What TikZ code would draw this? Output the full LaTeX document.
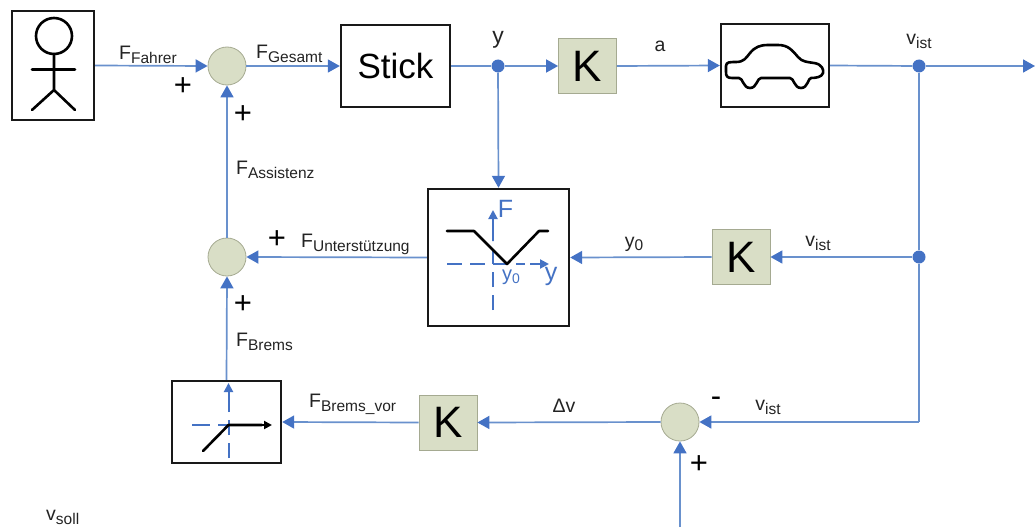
\documentclass[tikz,border=0pt]{standalone}
\usepackage{fontspec}
\setmainfont{Liberation Sans}
\usetikzlibrary{arrows.meta}
\definecolor{linkblue}{RGB}{105,145,205}
\definecolor{tipblue}{RGB}{68,114,196}
\definecolor{sumfill}{RGB}{217,222,198}
\definecolor{sumedge}{RGB}{165,170,145}
\definecolor{kfill}{RGB}{217,222,198}
\definecolor{inktext}{RGB}{35,35,35}
\tikzset{
  blockbox/.style={draw=black!90,line width=2.4pt,fill=white,minimum width=#1,inner sep=0pt},
  sumnode/.style={circle,draw=sumedge,fill=sumfill,line width=0.8pt,minimum size=38pt,inner sep=0pt},
  kbox/.style={draw=sumedge,fill=kfill,line width=0.8pt,minimum width=58pt,minimum height=55pt,inner sep=0pt,font=\fontsize{44}{44}\selectfont,text=black},
  dotnode/.style={circle,fill=tipblue,minimum size=13pt,inner sep=0pt},
  link/.style={draw=linkblue,line width=1.7pt,-{Triangle[length=12pt,width=13pt,color=tipblue,fill=tipblue]}},
  plain/.style={draw=linkblue,line width=1.7pt},
  lab/.style={inner sep=0pt,font=\fontsize{19.5}{19.5}\selectfont,text=inktext},
  pm/.style={inner sep=0pt,font=\fontsize{31}{31}\selectfont,text=black},
  ink/.style={draw=black,line width=2.6pt,line cap=round,line join=round},
  axis/.style={draw=tipblue,line width=2pt,dash pattern=on 15pt off 8pt},
  axistip/.style={draw=tipblue,line width=2pt,-{Triangle[length=9pt,width=9pt,color=tipblue,fill=tipblue]}}
}
\newcommand{\sbs}[2]{#1\raisebox{-0.4ex}{\fontsize{15.5}{15.5}\selectfont #2}}
\begin{document}
\begin{tikzpicture}[x=1pt,y=-1pt]
\useasboundingbox (0,0) rectangle (1035,527);
% blocks
\node[blockbox=82pt,minimum height=109pt] (person) at (53,65.5) {};
\node[blockbox=109pt,minimum height=82pt,font=\fontsize{35}{35}\selectfont] (stick) at (395.5,66) {Stick};
\node[blockbox=108pt,minimum height=83pt] (car) at (775,65.5) {};
\node[blockbox=141pt,minimum height=137pt] (map) at (498.5,257.5) {};
\node[blockbox=109pt,minimum height=82pt] (ramp) at (226.5,422) {};
\node[kbox] (k1) at (587.5,66) {K};
\node[kbox] (k2) at (741,257) {K};
\node[kbox] (k3) at (448,422.5) {K};
\node[sumnode] (s1) at (227,66) {};
\node[sumnode] (s2) at (227,257) {};
\node[sumnode] (s3) at (680,422) {};
\node[dotnode] (j1) at (498,66) {};
\node[dotnode] (j2) at (919,66) {};
\node[dotnode] (j3) at (919,257) {};
\coordinate (out) at (1035,66);
\coordinate (soll) at (680,527);
\coordinate (corner) at (919,422);
% connectors
\draw[link] (person.east) -- (s1.west);
\draw[link] (s1.east) -- (stick.west);
\draw[plain] (stick.east) -- (j1);
\draw[link] (j1) -- (k1.west);
\draw[link] (k1.east) -- (car.west);
\draw[plain] (car.east) -- (j2);
\draw[link] (j2) -- (out);
\draw[plain] (j2) -- (j3);
\draw[link] (j1) -- (map.north);
\draw[link] (j3) -- (k2.east);
\draw[link] (k2.west) -- (map.east);
\draw[link] (map.west) -- (s2.east);
\draw[link] (s2.north) -- (s1.south);
\draw[plain] (j3) -- (corner);
\draw[link] (corner) -- (s3.east);
\draw[link] (s3.west) -- (k3.east);
\draw[link] (k3.west) -- (ramp.east);
\draw[link] (ramp.north) -- (s2.south);
\draw[link] (soll) -- (s3.south);
% person icon
\draw[ink] (54,36) circle (18pt);
\draw[ink] (54,54) -- (54,90) (32,69.5) -- (75,69.5) (32,110) -- (54,90) -- (75,110);
% car icon
\draw[ink] (726,66) .. controls (726,62) and (730,62) .. (736,62)
  .. controls (744,62) and (746,58) .. (750,53)
  .. controls (755,47) and (760,45) .. (768,45)
  -- (778,45) .. controls (788,45) and (792,50) .. (798,57)
  .. controls (802,62) and (808,62) .. (814,63)
  .. controls (822,64) and (824,70) .. (823,73)
  .. controls (822,77) and (816,78) .. (811,78)
  .. controls (808,78) and (808,88) .. (801,88)
  .. controls (794,88) and (794,78) .. (790,78)
  -- (761,78) .. controls (757,78) and (757,88) .. (750,88)
  .. controls (743,88) and (743,78) .. (739,78)
  -- (732,78) .. controls (727,78) and (726,76) .. (726,72) -- cycle;
% map icon
\draw[axis] (493,310) -- (493,241);
\draw[axistip] (493,241) -- (493,210);
\draw[axis] (447,264) -- (525,264);
\draw[axistip] (530,264) -- (549,264);
\draw[ink] (447,231) -- (474,231) -- (507,264) -- (539,231) -- (548,231);
\node[inner sep=0pt,font=\fontsize{25}{25}\selectfont,text=tipblue] (mapF) at (505.5,209) {F};
\node[inner sep=0pt,font=\fontsize{25}{25}\selectfont,text=tipblue] (mapy) at (551,276) {y};
\node[inner sep=0pt,font=\fontsize{20}{20}\selectfont,text=tipblue] (mapy0) at (511,277) {y\raisebox{-0.35ex}{\fontsize{14}{14}\selectfont 0}};
% ramp icon
\draw[axis] (228.5,458) -- (228.5,395);
\draw[axistip] (228.5,400) -- (228.5,383);
\draw[axis,dash pattern=on 18pt off 8pt] (192,425) -- (228,425);
\draw[ink] (203,451) -- (228.5,425) -- (262,425);
\draw[-{Triangle[length=8pt,width=8pt,color=black,fill=black]},draw=black,line width=2.4pt] (255,425) -- (272,425);
% labels
\node[lab,anchor=west] (l1) at (119,55) {\sbs{F}{Fahrer}};
\node[lab,anchor=west] (l2) at (256,54) {\sbs{F}{Gesamt}};
\node[lab,font=\fontsize{23}{23}\selectfont] (l3) at (498,40) {y};
\node[lab] (l4) at (660,46) {a};
\node[lab] (l5) at (919,41) {\sbs{v}{ist}};
\node[lab,anchor=west] (l6) at (236,170) {\sbs{F}{Assistenz}};
\node[lab,anchor=west] (l7) at (301,244) {\sbs{F}{Unterstützung}};
\node[lab] (l8) at (634,244) {y\raisebox{-0.35ex}{\fontsize{15.5}{15.5}\selectfont 0}};
\node[lab] (l9) at (818,243) {\sbs{v}{ist}};
\node[lab,anchor=west] (l10) at (236,342) {\sbs{F}{Brems}};
\node[lab,anchor=west] (l11) at (309,404) {\sbs{F}{Brems\_vor}};
\node[lab] (l12) at (564,406) {Δv};
\node[lab] (l13) at (768,407) {\sbs{v}{ist}};
\node[lab,anchor=west] (l14) at (46,517) {\sbs{v}{soll}};
\node[pm] (p1) at (183,87) {+};
\node[pm] (p2) at (243,115) {+};
\node[pm] (p3) at (277,240) {+};
\node[pm] (p4) at (243,305) {+};
\node[pm] (p5) at (716,402) {-};
\node[pm] (p6) at (699,465) {+};
\end{tikzpicture}
\end{document}
